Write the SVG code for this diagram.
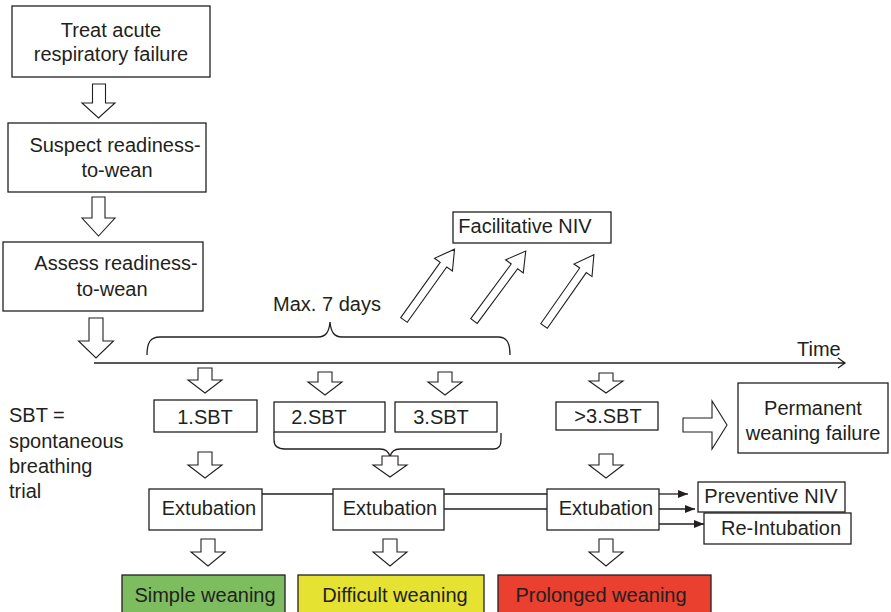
<svg xmlns="http://www.w3.org/2000/svg" width="891" height="612" viewBox="0 0 891 612">
<style>
text{font-family:"Liberation Sans",Arial,sans-serif;font-size:20px;fill:#231f20}
.m{text-anchor:middle}
.box{fill:#fff;stroke:#231f20;stroke-width:1.3}
.blk{fill:#fff;stroke:#231f20;stroke-width:1.1;stroke-linejoin:miter}
.ln{fill:none;stroke:#231f20;stroke-width:1.3}
</style>
<defs>
<marker id="ah" viewBox="0 0 10 8" refX="10" refY="4" markerWidth="10" markerHeight="8" markerUnits="userSpaceOnUse" orient="auto">
<path d="M0,0 L10,4 L0,8 Z" fill="#231f20"/>
</marker>
<path id="diag" d="M0,-4 H68 V-11 L87,0 L68,11 V4 H0 Z"/>
</defs>
<rect width="891" height="612" fill="#fff"/>

<g id="n-treat"><rect class="box" x="12" y="6" width="198" height="71"/><text class="m" x="111" y="37">Treat acute</text><text class="m" x="111" y="61">respiratory failure</text></g>
<g id="n-suspect"><rect class="box" x="8" y="123" width="198" height="69"/><text class="m" x="115" y="152">Suspect readiness-</text><text class="m" x="117" y="177">to-wean</text></g>
<g id="n-assess"><rect class="box" x="3" y="242" width="200" height="69"/><text class="m" x="116" y="270">Assess readiness-</text><text class="m" x="112" y="296">to-wean</text></g>
<g id="n-fniv"><rect class="box" x="453" y="212" width="158" height="31"/><text class="m" x="525" y="233">Facilitative NIV</text></g>
<g id="n-maxdays"><text class="m" x="327" y="311">Max. 7 days</text></g>
<g id="n-time"><text x="797" y="356">Time</text></g>
<g id="n-legend"><text x="9" y="422">SBT =</text><text x="9" y="448">spontaneous</text><text x="9" y="473">breathing</text><text x="9" y="498">trial</text></g>
<g id="n-sbt1"><rect class="box" x="154" y="400" width="103" height="32"/><text class="m" x="205" y="424">1.SBT</text></g>
<g id="n-sbt2"><rect class="box" x="274" y="402" width="111" height="30"/><text class="m" x="319" y="424">2.SBT</text></g>
<g id="n-sbt3"><rect class="box" x="395" y="402" width="102" height="30"/><text class="m" x="441" y="424">3.SBT</text></g>
<g id="n-sbt4"><rect class="box" x="556" y="402" width="102" height="28"/><text class="m" x="608" y="423">&gt;3.SBT</text></g>
<g id="n-pwf"><rect class="box" x="738" y="383" width="150" height="70"/><text class="m" x="813" y="415">Permanent</text><text class="m" x="813" y="440">weaning failure</text></g>
<g id="n-ext1"><rect class="box" x="149" y="489" width="113" height="41"/><text class="m" x="209" y="515">Extubation</text></g>
<g id="n-ext2"><rect class="box" x="333" y="489" width="111" height="41"/><text class="m" x="390" y="515">Extubation</text></g>
<g id="n-ext3"><rect class="box" x="547" y="489" width="112" height="41"/><text class="m" x="606" y="515">Extubation</text></g>
<g id="n-pniv"><rect class="box" x="698" y="482" width="147" height="30"/><text class="m" x="771" y="503">Preventive NIV</text></g>
<g id="n-reint"><rect class="box" x="704" y="513" width="147" height="31"/><text class="m" x="781" y="535">Re-Intubation</text></g>
<g id="n-simple"><rect x="122" y="575" width="163" height="40" fill="#7dbd60" stroke="#231f20" stroke-width="1.3"/><text class="m" x="205" y="602">Simple weaning</text></g>
<g id="n-difficult"><rect x="298" y="575" width="186" height="40" fill="#e6e232" stroke="#231f20" stroke-width="1.3"/><text class="m" x="395" y="602">Difficult weaning</text></g>
<g id="n-prolonged"><rect x="498" y="575" width="213" height="40" fill="#e9402f" stroke="#231f20" stroke-width="1.3"/><text class="m" x="601" y="602">Prolonged weaning</text></g>

<g id="connectors">
<path class="blk" d="M92.5,84 H105.5 V103 H115 L98.5,118 L82,103 H92.5 Z"/>
<path class="blk" d="M92,197 H105 V218 H115 L98.5,236 L82,218 H92 Z"/>
<path class="blk" d="M89,318 H103 V341 H113.5 L96,358 L78.5,341 H89 Z"/>
<path class="ln" d="M94,363 H845 M838,358 L845,363 L838,368"/>
<path class="ln" d="M147,355 C147,343 150,337 160,337 H318 C326,337 329,332 330,322 C331,332 334,337 342,337 H498 C507,337 510,343 510,355"/>
<use href="#diag" class="blk" transform="translate(404,320) rotate(-54.5)"/>
<use href="#diag" class="blk" transform="translate(474,321) rotate(-53.5)"/>
<use href="#diag" class="blk" transform="translate(544,326) rotate(-55)"/>
<path class="blk" d="M198,368 H212 V380 H222 L205,393 L188,380 H198 Z"/>
<path class="blk" d="M318,372 H332 V382 H342 L325,395 L308,382 H318 Z"/>
<path class="blk" d="M438,372 H452 V382 H462 L445,395 L428,382 H438 Z"/>
<path class="blk" d="M599,373 H613 V381 H623 L606,393 L589,381 H599 Z"/>
<path class="blk" d="M683,418 H712 V401 L727,425 L712,449 V432 H683 Z"/>
<path class="ln" d="M274,432 V440 C274,446 278,449 285,449 H380 C385,449 389,452 390,457 C391,452 395,449 400,449 H494 C499,449 501,445 501,440 V433"/>
<path class="blk" d="M198,452 H212 V465 H222 L205,478 L188,465 H198 Z"/>
<path class="blk" d="M382,456 H398 V465 H407 L390,477 L373,465 H382 Z"/>
<path class="blk" d="M599,454 H613 V465 H623 L606,478 L589,465 H599 Z"/>
<path class="ln" d="M262,494 H333 M444,494 H547 M444,509 H547"/>
<path class="ln" d="M659,494 H688" marker-end="url(#ah)"/>
<path class="ln" d="M659,509 H695" marker-end="url(#ah)"/>
<path class="ln" d="M659,524 H704" marker-end="url(#ah)"/>
<path class="blk" d="M201,539 H215 V552 H225 L208,566 L191,552 H201 Z"/>
<path class="blk" d="M383,539 H397 V552 H407 L390,566 L373,552 H383 Z"/>
<path class="blk" d="M599,539 H613 V552 H623 L606,566 L589,552 H599 Z"/>
</g>
</svg>
